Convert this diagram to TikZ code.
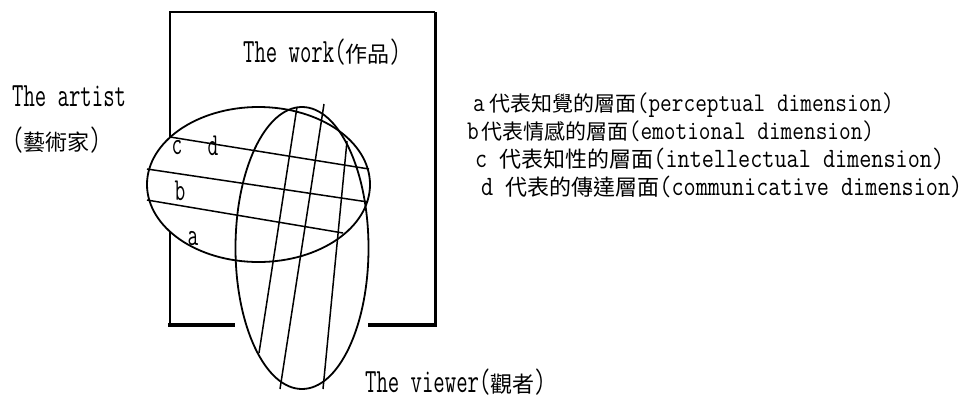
\documentclass[tikz,border=0pt]{standalone}
\usepackage{fontspec}
\newfontfamily\lat{Latin Modern Mono}[FakeStretch=0.84]
\newfontfamily\head{Latin Modern Mono}[FakeStretch=0.65]
\newfontfamily\cjk{Noto Sans CJK TC}
\newcommand\zh[1]{{\cjk\fontsize{22}{24}\selectfont #1}}
\newcommand\zhs[1]{{\cjk\fontsize{21}{23}\selectfont #1}}
\usepackage{tikz}

\begin{document}
\begin{tikzpicture}[x=1pt,y=-1pt,
  txt/.style={anchor=base west,inner sep=0pt,font=\head\fontsize{34}{36}\selectfont},
  key/.style={anchor=base west,inner sep=0pt,font=\lat\fontsize{28}{32}\selectfont},
  keys/.style={anchor=base west,inner sep=0pt,font=\lat\fontsize{27}{30}\selectfont},
  tag/.style={anchor=base,inner sep=0pt,font=\head\fontsize{32}{34}\selectfont},
  rim/.style={line width=1.8pt},
  chord/.style={line width=1.5pt}]

  \useasboundingbox (0,0) rectangle (980,405);

  % the work
  \draw[line width=1.4pt] (435,12) -- (170,12) -- (170,325);
  \draw[line width=3pt] (435,12) -- (435,326);
  \draw[line width=4pt] (168,325) -- (235,325);
  \draw[line width=4pt] (368,325) -- (436.5,325);

  % artist and viewer
  \draw[rim, fill=white] (258.5,184.5) ellipse [x radius=111.5, y radius=77.5];
  \draw[rim] (302,248) ellipse [x radius=66.5, y radius=141];

  \draw[chord] (170,137) -- (369,169);
  \draw[chord] (147,169) -- (368,202);
  \draw[chord] (147,200) -- (343,233);

  \draw[chord] (297,107) -- (259,353);
  \draw[chord] (324,104) -- (280,389);
  \draw[chord] (347,141) -- (323,389);

  \node[tag] (c) at (177,154) {c};
  \node[tag] (d) at (213,155) {d};
  \node[tag] (b) at (180,200) {b};
  \node[tag] (a) at (193,245) {a};

  \node[txt] (work) at (243,62) {The work(\zh{作品})};
  \node[txt] (artist) at (12,106) {The artist};
  \node[txt] (artistzh) at (12,150) {(\zh{藝術家})};
  \node[txt] (viewer) at (365,392) {The viewer(\zh{觀者})};

  \node[keys] (ka) at (473,111) {a\hspace{5pt}\zhs{代表知覺的層面}(perceptual dimension)};
  \node[keys] (kb) at (467,139) {b\hspace{3pt}\zhs{代表情感的層面}(emotional dimension)};
  \node[key] (kc) at (475,167) {c \zh{代表知性的層面}(intellectual dimension)};
  \node[key] (kd) at (481,195) {d \zh{代表的傳達層面}(communicative dimension)};

\end{tikzpicture}
\end{document}
